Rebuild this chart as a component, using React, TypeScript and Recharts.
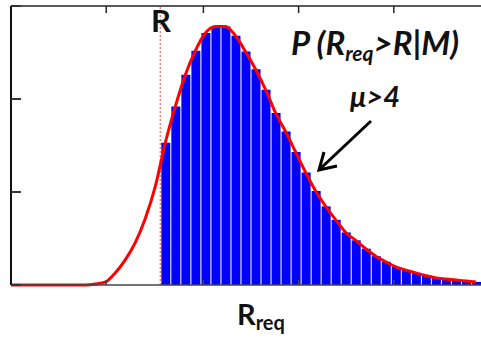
import { ComposedChart, Bar, Line, XAxis, YAxis, ReferenceLine } from "recharts";

// bin centres of the histogram (R_req axis, arbitrary units)
const binCenters = [
  0.1, 0.2, 0.3, 0.4, 0.5, 0.6, 0.7, 0.8, 0.9, 1.0, 1.1, 1.2, 1.3, 1.4, 1.5,
  1.6, 1.7, 1.8, 1.9, 2.0, 2.1, 2.2, 2.3, 2.4, 2.5, 2.6, 2.7, 2.8, 2.9, 3.0,
  3.1, 3.2, 3.3, 3.4, 3.5, 3.6, 3.7, 3.8, 3.9, 4.0, 4.1, 4.2, 4.3, 4.4, 4.5,
  4.6, 4.7,
];

// probability density
const density = [
  0, 0, 0, 0, 0, 0, 0, 0, 0.01, 0.03, 0.13, 0.27, 0.455, 0.715, 1.06,
  1.53, 1.92, 2.26, 2.52, 2.71, 2.78, 2.78, 2.68, 2.51, 2.32, 2.1, 1.85, 1.65,
  1.43, 1.21, 1.01, 0.845, 0.7, 0.565, 0.48, 0.39, 0.31, 0.25, 0.195, 0.16,
  0.13, 0.1, 0.076, 0.065, 0.054, 0.043, 0.033,
];

const R = 1.55;
const xDomain = [0.06, 4.75];
const xTicks = [1.01, 1.98, 2.93, 3.88];
const yTicks = [0, 1, 2, 3];

const data = binCenters.map((x, i) => ({
  x,
  pdf: density[i],
  tail: x > R ? density[i] : null,
}));

const font = "Lato, 'Open Sans', sans-serif";
// tick marks only, no labels
const noLabel = () => <g />;

export default function App() {
  return (
    <div style={{ position: "absolute", left: 0, top: 0, width: 481, height: 339, background: "#fff" }}>
      <ComposedChart
        width={481}
        height={339}
        data={data}
        margin={{ top: 6, right: 0, left: 11, bottom: 54 }}
      >
        <XAxis
          dataKey="x"
          type="number"
          domain={xDomain}
          allowDataOverflow
          ticks={xTicks}
          tick={noLabel}
          mirror
          height={1}
          tickSize={5}
          axisLine={{ stroke: "#444", strokeWidth: 1.5 }}
          tickLine={{ stroke: "#444", strokeWidth: 1.5 }}
        />
        <XAxis
          xAxisId="top"
          orientation="top"
          dataKey="x"
          type="number"
          domain={xDomain}
          allowDataOverflow
          ticks={xTicks}
          tick={noLabel}
          mirror
          height={1}
          tickSize={7}
          axisLine={{ stroke: "#222", strokeWidth: 1.5 }}
          tickLine={{ stroke: "#222", strokeWidth: 1.5 }}
        />
        <YAxis
          type="number"
          domain={[0, 3]}
          ticks={yTicks}
          tick={noLabel}
          mirror
          width={1}
          tickSize={10}
          axisLine={{ stroke: "#111", strokeWidth: 2 }}
          tickLine={{ stroke: "#333", strokeWidth: 2 }}
        />
        <Bar dataKey="tail" fill="#0000ff" barSize={9} isAnimationActive={false} />
        <ReferenceLine
          x={R}
          stroke="#ff7a7a"
          strokeWidth={1.5}
          strokeDasharray="2 2"
        />
        <ReferenceLine
          segment={[
            { x: xDomain[0], y: 0 },
            { x: binCenters[0], y: 0 },
          ]}
          stroke="#ff0000"
          strokeWidth={3}
        />
        <Line
          type="monotone"
          dataKey="pdf"
          stroke="#ff0000"
          strokeWidth={3}
          dot={false}
          isAnimationActive={false}
        />
      </ComposedChart>

      {/* annotations */}
      <svg
        width={481}
        height={339}
        style={{ position: "absolute", left: 0, top: 0, pointerEvents: "none" }}
      >
        <text x={161} y={32} textAnchor="middle" fontFamily={font} fontWeight={700} fontSize={31} fill="#111">
          R
        </text>
        <text x={291} y={55} fontFamily={font} fontWeight={700} fontStyle="italic" fontSize={33} fill="#111">
          <tspan>P (R</tspan>
          <tspan fontSize={21} dy={6}>req</tspan>
          <tspan dy={-6}>&gt;R|M)</tspan>
        </text>
        <text x={350} y={107} fontFamily={font} fontWeight={700} fontStyle="italic" fontSize={29} fill="#111">
          μ&gt;4
        </text>
        <line x1={371} y1={121} x2={321} y2={168} stroke="#000" strokeWidth={3} />
        <polyline points="324,152 319,170 337,166" fill="none" stroke="#000" strokeWidth={3} />
        <text x={237} y={325} fontFamily={font} fontWeight={700} fontSize={29} fill="#111">
          <tspan>R</tspan>
          <tspan fontSize={20} dy={5}>req</tspan>
        </text>
      </svg>
    </div>
  );
}
